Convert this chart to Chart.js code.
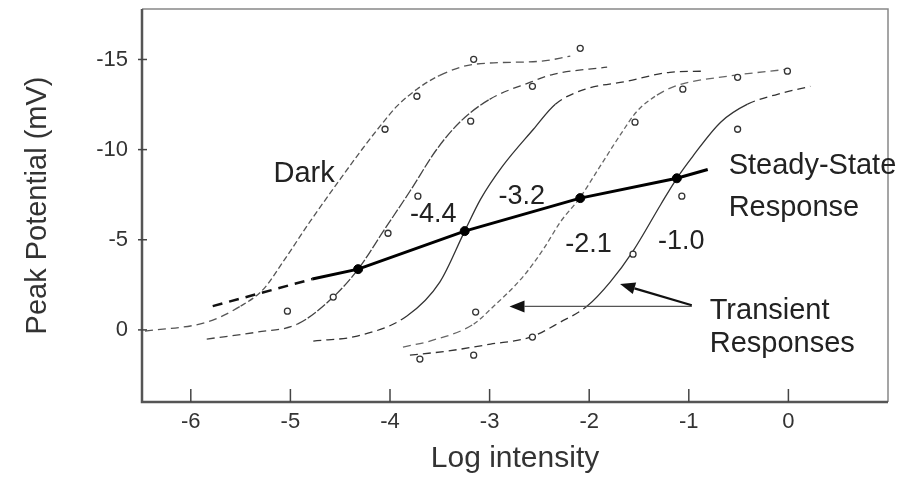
<!DOCTYPE html>
<html>
<head>
<meta charset="utf-8">
<script src="https://cdn.jsdelivr.net/npm/chart.js@4.4.1/dist/chart.umd.min.js"></script>
<style>
  html, body { margin: 0; padding: 0; background: #fff; }
</style>
</head>
<body>
<canvas id="myChart" width="918" height="478"></canvas>
<script>
// Graduations des axes
const xTicks = [-6, -5, -4, -3, -2, -1, 0];
const yTicks = [-15, -10, -5, 0];

// Réponses transitoires : [log intensité, potentiel (mV)]
const darkCurve = [[-6.46, 0.07], [-5.84, -0.43], [-5.50, -1.32], [-5.27, -2.26], [-5.07, -3.81], [-4.80, -6.03], [-4.50, -8.36], [-4.28, -10.02], [-4.10, -11.30], [-3.93, -12.41], [-3.73, -13.35], [-3.50, -14.12], [-3.16, -14.73], [-2.49, -14.90], [-2.19, -15.18]];
const curve44 = [[-5.84, 0.51], [-5.33, 0.12], [-4.93, -0.32], [-4.57, -1.82], [-4.32, -3.37], [-4.06, -5.53], [-3.80, -7.69], [-3.53, -10.02], [-3.30, -11.52], [-3.00, -12.79], [-2.59, -13.74], [-2.36, -14.18], [-1.82, -14.57]];
const curve32 = [[-4.77, 0.62], [-4.33, 0.34], [-3.83, -0.77], [-3.50, -2.65], [-3.25, -5.48], [-3.09, -7.25], [-2.87, -9.08], [-2.56, -11.13], [-2.34, -12.52], [-2.04, -13.35], [-1.62, -13.79], [-1.19, -14.29], [-0.86, -14.35]];
const curve21 = [[-3.87, 0.95], [-3.60, 0.62], [-3.16, -0.32], [-2.99, -1.15], [-2.66, -2.98], [-2.46, -4.48], [-2.29, -5.98], [-2.09, -7.36], [-1.89, -9.08], [-1.69, -10.80], [-1.52, -12.13], [-1.32, -13.02], [-1.11, -13.57], [-0.61, -14.07], [-0.01, -14.46]];
const curve10 = [[-3.80, 1.40], [-3.43, 1.18], [-2.99, 0.79], [-2.59, 0.40], [-2.29, -0.43], [-2.02, -1.32], [-1.79, -2.65], [-1.56, -4.37], [-1.28, -6.97], [-1.12, -8.41], [-0.96, -9.63], [-0.68, -11.52], [-0.41, -12.52], [-0.11, -13.07], [0.22, -13.51]];

// Points mesurés (cercles ouverts)
const darkPoints = [[-2.09, -15.62], [-3.16, -15.01], [-3.73, -12.96], [-4.05, -11.13], [-5.03, -1.04]];
const points44 = [[-3.72, -7.42], [-4.02, -5.36], [-4.57, -1.82], [-3.19, -11.58]];
const points32 = [[-2.57, -13.51]];
const points21 = [[-3.14, -0.99], [-1.54, -11.52], [-1.06, -13.35], [-0.51, -14.01]];
const points10 = [[-0.01, -14.35], [-0.51, -11.13], [-1.07, -7.42], [-1.56, -4.20], [-2.57, 0.40], [-3.16, 1.40], [-3.70, 1.62]];

// Réponse stationnaire
const steadyDots = [[-4.32, -3.37], [-3.25, -5.48], [-2.09, -7.31], [-1.12, -8.41]];
const steadyLine = [[-4.78, -2.82], [-4.32, -3.37], [-3.25, -5.48], [-2.09, -7.31], [-1.12, -8.41], [-0.81, -8.90]];
const steadyTail = [[-5.78, -1.32], [-4.78, -2.82]];

// Textes et flèches (coordonnées des données)
const notes = [
  { text: "Dark", x: -5.17, y: -8.19, size: 29 },
  { text: "-4.4", x: -3.80, y: -5.98, size: 27 },
  { text: "-3.2", x: -2.91, y: -6.97, size: 27 },
  { text: "-2.1", x: -2.24, y: -4.31, size: 27 },
  { text: "-1.0", x: -1.31, y: -4.48, size: 27 },
  { text: "Steady-State", x: -0.60, y: -8.64, size: 29 },
  { text: "Response", x: -0.60, y: -6.31, size: 29 },
  { text: "Transient", x: -0.79, y: -0.60, size: 29 },
  { text: "Responses", x: -0.79, y: 1.23, size: 29 },
];
const arrows = [
  { from: [-0.97, -1.30], to: [-2.80, -1.30], width: 1.3, color: "#555" },
  { from: [-0.97, -1.37], to: [-1.69, -2.54], width: 2.2, color: "#111" },
];

const family = "'Liberation Sans', Arial, sans-serif";
const pts = (arr) => arr.map(([x, y]) => ({ x, y }));

// Cadre et graduations vers l'intérieur
const framePlugin = {
  id: "frame",
  afterDatasetsDraw(chart) {
    const { ctx, chartArea: a, scales } = chart;
    ctx.save();
    ctx.strokeStyle = "#888";
    ctx.lineWidth = 1.5;
    ctx.beginPath();
    ctx.moveTo(a.left, a.top);
    ctx.lineTo(a.right, a.top);
    ctx.lineTo(a.right, a.bottom);
    ctx.stroke();
    ctx.strokeStyle = "#555";
    ctx.lineWidth = 2.5;
    ctx.beginPath();
    ctx.moveTo(a.left, a.top);
    ctx.lineTo(a.left, a.bottom);
    ctx.lineTo(a.right, a.bottom);
    ctx.stroke();
    ctx.strokeStyle = "#444";
    ctx.lineWidth = 1.5;
    xTicks.forEach((v) => {
      const px = scales.x.getPixelForValue(v);
      ctx.beginPath();
      ctx.moveTo(px, a.bottom);
      ctx.lineTo(px, a.bottom - 13);
      ctx.stroke();
    });
    yTicks.forEach((v) => {
      const py = scales.y.getPixelForValue(v);
      ctx.beginPath();
      ctx.moveTo(a.left - 4, py);
      ctx.lineTo(a.left + 5, py);
      ctx.stroke();
    });
    ctx.restore();
  },
};

// Annotations : flèches et étiquettes
const notesPlugin = {
  id: "notes",
  afterDraw(chart) {
    const { ctx, scales } = chart;
    const px = (p) => [scales.x.getPixelForValue(p[0]), scales.y.getPixelForValue(p[1])];
    ctx.save();
    arrows.forEach((a) => {
      const [x0, y0] = px(a.from);
      const [x1, y1] = px(a.to);
      const ang = Math.atan2(y1 - y0, x1 - x0);
      const len = 15, half = 6;
      const bx = x1 - len * Math.cos(ang), by = y1 - len * Math.sin(ang);
      ctx.strokeStyle = a.color;
      ctx.lineWidth = a.width;
      ctx.beginPath();
      ctx.moveTo(x0, y0);
      ctx.lineTo(bx, by);
      ctx.stroke();
      ctx.fillStyle = "#111";
      ctx.beginPath();
      ctx.moveTo(x1, y1);
      ctx.lineTo(bx + half * Math.sin(ang), by - half * Math.cos(ang));
      ctx.lineTo(bx - half * Math.sin(ang), by + half * Math.cos(ang));
      ctx.closePath();
      ctx.fill();
    });
    ctx.fillStyle = "#222";
    ctx.textAlign = "left";
    ctx.textBaseline = "alphabetic";
    notes.forEach((n) => {
      const [x, y] = px([n.x, n.y]);
      ctx.font = n.size + "px " + family;
      ctx.fillText(n.text, x, y);
    });
    ctx.restore();
  },
};

// Portions plates en tirets plus longs
const flat = (c) => Math.abs(c.p1.y - c.p0.y) < 0.6 * Math.abs(c.p1.x - c.p0.x);

function curve(data, color, dash) {
  return {
    data: pts(data),
    showLine: true,
    borderColor: color,
    borderWidth: 1.3,
    borderDash: dash,
    pointRadius: 0,
    cubicInterpolationMode: "monotone",
    segment: { borderDash: (c) => (flat(c) ? [8, 5] : undefined) },
  };
}

function circles(data) {
  return {
    data: pts(data),
    showLine: false,
    pointStyle: "circle",
    pointRadius: 3,
    pointBackgroundColor: "#fff",
    pointBorderColor: "#333",
    pointBorderWidth: 1.3,
  };
}

const ctx = document.getElementById("myChart").getContext("2d");
const myChart = new Chart(ctx, {
  type: "scatter",
  data: {
    datasets: [
      {
        data: pts(steadyDots),
        showLine: false,
        pointRadius: 4.5,
        pointBackgroundColor: "#000",
        pointBorderColor: "#000",
      },
      circles(darkPoints),
      circles(points44),
      circles(points32),
      circles(points21),
      circles(points10),
      { data: pts(steadyLine), showLine: true, borderColor: "#000", borderWidth: 3, pointRadius: 0 },
      { data: pts(steadyTail), showLine: true, borderColor: "#111", borderWidth: 2.5, borderDash: [10, 7], pointRadius: 0 },
      curve(darkCurve, "#555", [6, 3]),
      curve(curve44, "#444", [10, 2]),
      curve(curve32, "#333", []),
      curve(curve21, "#666", [5, 3]),
      curve(curve10, "#333", []),
    ],
  },
  options: {
    responsive: false,
    animation: false,
    layout: { autoPadding: false, padding: { top: 9, right: 30, bottom: 0, left: 0 } },
    scales: {
      x: {
        type: "linear",
        min: -6.49,
        max: 1.0,
        afterBuildTicks: (s) => { s.ticks = xTicks.map((v) => ({ value: v })); },
        afterFit: (s) => { s.height = 76; s.paddingLeft = 0; s.paddingRight = 0; },
        grid: { display: false, drawTicks: false },
        border: { display: false },
        ticks: { padding: 7, color: "#333", font: { size: 22, family } },
        title: {
          display: true,
          text: "Log intensity",
          color: "#333",
          font: { size: 30, family },
          padding: { top: 0, bottom: 1 },
        },
      },
      y: {
        type: "linear",
        reverse: true,
        min: -17.8,
        max: 4.0,
        afterBuildTicks: (s) => { s.ticks = yTicks.map((v) => ({ value: v })); },
        afterFit: (s) => { s.width = 142; s.paddingTop = 0; s.paddingBottom = 0; },
        grid: { display: false, drawTicks: false },
        border: { display: false },
        ticks: { padding: 14, color: "#333", font: { size: 22, family } },
        title: {
          display: true,
          text: "Peak Potential (mV)",
          color: "#333",
          font: { size: 29, family },
          padding: { top: 21, bottom: 0 },
        },
      },
    },
    plugins: {
      legend: { display: false },
      tooltip: { enabled: false },
    },
  },
  plugins: [framePlugin, notesPlugin],
});
</script>
</body>
</html>
